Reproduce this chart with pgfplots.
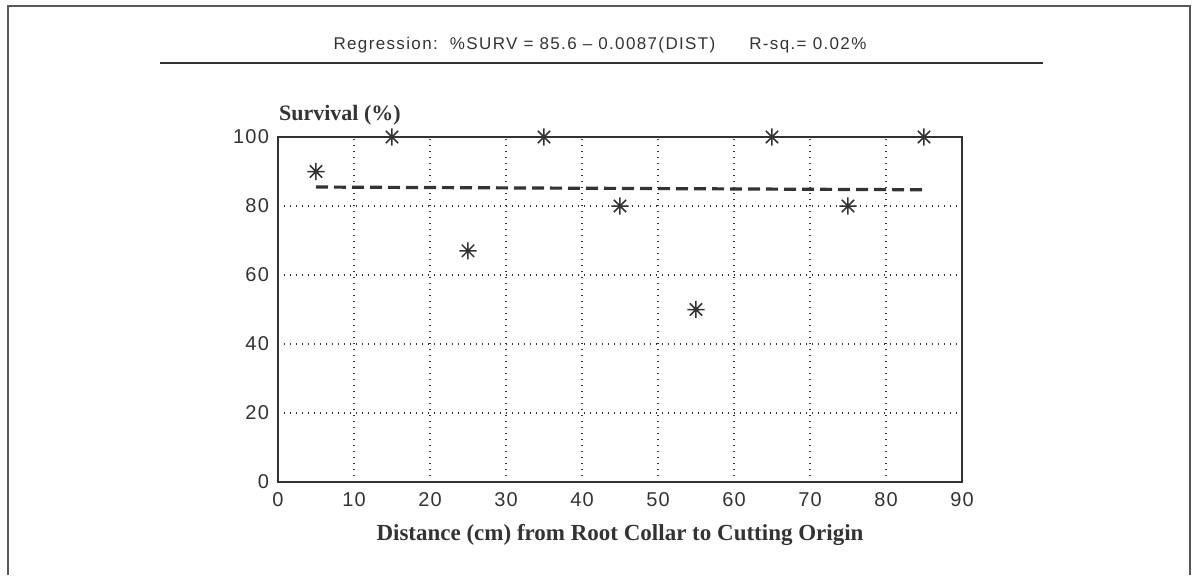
\documentclass[border=0pt]{standalone}
\usepackage{pgfplots}
\pgfplotsset{compat=1.18}
\usepackage{fontspec}
\setmainfont{Liberation Sans}
\newfontfamily\titlefont[LetterSpace=8]{Liberation Sans}
\newfontfamily\tickfont[LetterSpace=6]{Liberation Sans}
\newfontfamily\labfont{Liberation Serif}
\definecolor{ink}{HTML}{333333}
\pgfdeclareplotmark{ast8}{%
  \pgfpathmoveto{\pgfqpoint{-\pgfplotmarksize}{0pt}}\pgfpathlineto{\pgfqpoint{\pgfplotmarksize}{0pt}}%
  \pgfpathmoveto{\pgfqpoint{0pt}{-\pgfplotmarksize}}\pgfpathlineto{\pgfqpoint{0pt}{\pgfplotmarksize}}%
  \pgfpathmoveto{\pgfqpoint{-0.72\pgfplotmarksize}{-0.72\pgfplotmarksize}}\pgfpathlineto{\pgfqpoint{0.72\pgfplotmarksize}{0.72\pgfplotmarksize}}%
  \pgfpathmoveto{\pgfqpoint{-0.72\pgfplotmarksize}{0.72\pgfplotmarksize}}\pgfpathlineto{\pgfqpoint{0.72\pgfplotmarksize}{-0.72\pgfplotmarksize}}%
  \pgfusepathqstroke}
\begin{document}
\begin{tikzpicture}
\useasboundingbox (-139pt,-46.5pt) rectangle (457pt,241pt);
\draw[gray!70!black, line width=1pt] (-135pt,-46.5pt) -- (-135pt,238pt) -- (456pt,238pt) -- (456pt,-46.5pt);
\node[font=\titlefont\fontsize{8.5}{10}\selectfont, text=ink] at (161pt,218.5pt) {Regression:\ \ \%SURV = 85.6 – 0.0087(DIST)\qquad R-sq.= 0.02\%};
\draw[ink, line width=0.6pt] (-59pt,209.5pt) -- (382.5pt,209.5pt);
\begin{axis}[
  at={(0pt,0pt)}, anchor=origin,
  scale only axis, width=342pt, height=172.5pt,
  xmin=0, xmax=90, ymin=0, ymax=100,
  xtick={0,10,...,90}, ytick={0,20,...,100},
  grid=major,
  major grid style={ink, line width=0.6pt, dash pattern=on 0.6pt off 2.4pt},
  axis line style={ink, line width=0.8pt},
  tick style={draw=none},
  tick label style={font=\tickfont\fontsize{10}{12}\selectfont, text=ink},
  /pgf/number format/assume math mode=true,
  xticklabel style={yshift=-1.5pt},
  yticklabel style={xshift=-1pt},
  clip=false,
]
\addplot[ink, line width=1.6pt, dash pattern=on 6pt off 3pt] coordinates {(5,85.5) (85,84.7)};
\addplot[only marks, mark=ast8, mark size=4.3pt, mark options={ink, line width=0.75pt}] coordinates {
(5,90) (15,100) (25,67) (35,100) (45,80) (55,50) (65,100) (75,80) (85,100)};
\end{axis}
\node[anchor=west, font=\labfont\bfseries\fontsize{11}{13}\selectfont, text=ink] at (-3pt,183.5pt) {Survival (\%)};
\node[font=\labfont\bfseries\fontsize{11.5}{13}\selectfont, text=ink] at (171pt,-26.5pt) {Distance (cm) from Root Collar to Cutting Origin};
\end{tikzpicture}
\end{document}
